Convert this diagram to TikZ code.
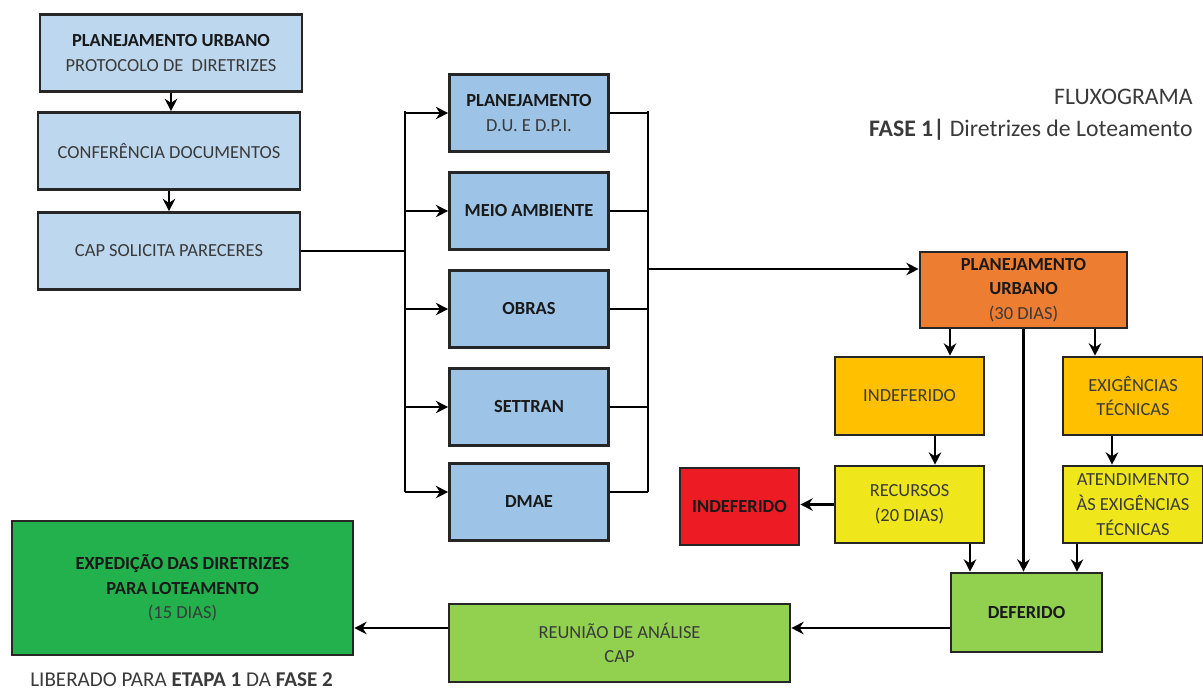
\documentclass[tikz,border=0pt]{standalone}
\usepackage{fontspec}
\setmainfont{Carlito}
\usetikzlibrary{arrows.meta}
\definecolor{azulclaro}{HTML}{BDD7EE}
\definecolor{azul}{HTML}{9DC3E6}
\definecolor{laranja}{HTML}{ED7D31}
\definecolor{ambar}{HTML}{FFC000}
\definecolor{amarelo}{HTML}{EFE61C}
\definecolor{vermelho}{HTML}{ED1C24}
\definecolor{verdeclaro}{HTML}{92D050}
\definecolor{verde}{HTML}{22B14C}
\definecolor{texto}{HTML}{3A3A3A}
\tikzset{
  caixa/.style={draw=black!85,line width=1.5pt,align=center,text=texto,font=\fontsize{10.5}{14}\selectfont},
  negrito/.style={font=\fontsize{10.5}{14}\selectfont\bfseries,text=black!90},
  seta/.style={->,line width=1.6pt},
  linha/.style={line width=1.6pt}
}
\begin{document}
\begin{tikzpicture}[x=0.02cm,y=-0.02cm,>={Stealth[length=7pt,width=7pt]}]
	\useasboundingbox (0,0) rectangle (1203,690);
	% coluna da esquerda
	\node[caixa,fill=azulclaro,minimum width=5.24cm,minimum height=1.54cm] (pu) at (171,53) {\textbf{\color{black!90}PLANEJAMENTO URBANO}\\PROTOCOLO DE \ DIRETRIZES};
	\node[caixa,fill=azulclaro,minimum width=5.24cm,minimum height=1.54cm] (conf) at (169,151) {CONFERÊNCIA DOCUMENTOS};
	\node[caixa,fill=azulclaro,minimum width=5.24cm,minimum height=1.54cm] (cap) at (169,251) {CAP SOLICITA PARECERES};
	\draw[seta] (pu.south) -- (pu.south |- conf.north);
	\draw[seta] (conf.south) -- (conf.south |- cap.north);
	% pareceres
	\node[caixa,fill=azul,minimum width=3.18cm,minimum height=1.54cm] (plan) at (529,113) {\textbf{\color{black!90}PLANEJAMENTO}\\D.U. E D.P.I.};
	\node[caixa,negrito,fill=azul,minimum width=3.18cm,minimum height=1.54cm] (meio) at (529,211) {MEIO AMBIENTE};
	\node[caixa,negrito,fill=azul,minimum width=3.18cm,minimum height=1.54cm] (obras) at (529,309) {OBRAS};
	\node[caixa,negrito,fill=azul,minimum width=3.18cm,minimum height=1.54cm] (settran) at (529,407) {SETTRAN};
	\node[caixa,negrito,fill=azul,minimum width=3.18cm,minimum height=1.54cm] (dmae) at (529,502) {DMAE};
	\draw[linha] (cap.east) -- (405,0 |- cap.east);
	\draw[linha] (405,111) -- (405,492);
	\draw[linha] (648,111) -- (648,492);
	\foreach \b in {plan,meio,obras,settran}{
		\draw[seta] (405,0 |- \b.west) -- (\b.west);
		\draw[linha] (\b.east) -- (648,0 |- \b.east);
	}
	\draw[seta] (405,492) -- (dmae.west |- 0,492);
	\draw[linha] (dmae.east |- 0,492) -- (648,492);
	% analise do planejamento urbano
	\node[caixa,fill=laranja,minimum width=4.14cm,minimum height=1.52cm] (puo) at (1023.5,290) {\textbf{\color{black!90}PLANEJAMENTO}\\\textbf{\color{black!90}URBANO}\\(30 DIAS)};
	\coordinate (bus) at (648,269);
	\draw[seta] (bus) -- (bus -| puo.west);
	\node[caixa,fill=ambar,minimum width=2.98cm,minimum height=1.56cm] (indef) at (909.5,396) {INDEFERIDO};
	\node[caixa,fill=ambar,minimum width=2.8cm,minimum height=1.56cm] (exig) at (1133,396) {EXIGÊNCIAS\\TÉCNICAS};
	\node[caixa,fill=amarelo,minimum width=2.98cm,minimum height=1.54cm] (rec) at (909.5,504.5) {RECURSOS\\(20 DIAS)};
	\node[caixa,fill=amarelo,minimum width=2.8cm,minimum height=1.54cm,inner xsep=1pt] (atend) at (1133,504.5) {ATENDIMENTO\\ÀS EXIGÊNCIAS\\TÉCNICAS};
	\node[caixa,negrito,fill=vermelho,minimum width=2.38cm,minimum height=1.54cm] (indef2) at (739.5,506.5) {INDEFERIDO};
	\node[caixa,negrito,fill=verdeclaro,minimum width=3.02cm,minimum height=1.58cm] (def) at (1026.5,612.5) {DEFERIDO};
	\draw[seta] (950,0 |- puo.south) -- (950,0 |- indef.north);
	\draw[seta] (1095,0 |- puo.south) -- (1095,0 |- exig.north);
	\draw[seta] (puo.south) -- (puo.south |- def.north);
	\draw[seta] (935,0 |- indef.south) -- (935,0 |- rec.north);
	\draw[seta] (1112,0 |- exig.south) -- (1112,0 |- atend.north);
	\draw[seta] (rec.west) -- (indef2.east |- rec.west);
	\draw[seta] (970,0 |- rec.south) -- (970,0 |- def.north);
	\draw[seta] (1077,0 |- atend.south) -- (1077,0 |- def.north);
	% fechamento
	\node[caixa,fill=verdeclaro,minimum width=6.82cm,minimum height=1.56cm] (reun) at (619.5,643) {REUNIÃO DE ANÁLISE\\CAP};
	\node[caixa,fill=verde,minimum width=6.82cm,minimum height=2.68cm] (exped) at (182.5,588) {\textbf{\color{black!90}EXPEDIÇÃO DAS DIRETRIZES}\\\textbf{\color{black!90}PARA LOTEAMENTO}\\(15 DIAS)};
	\draw[seta] (def.west |- 0,628) -- (reun.east |- 0,628);
	\draw[seta] (reun.west |- 0,628) -- (exped.east |- 0,628);
	\node[anchor=west,text=texto,font=\fontsize{12}{14}\selectfont,inner sep=0pt] (lib) at (30,680) {LIBERADO PARA \textbf{ETAPA 1} DA \textbf{FASE 2}};
	% titulo
	\node[anchor=east,text=texto,font=\fontsize{13.5}{16}\selectfont,inner sep=0pt] (tit) at (1193,97) {FLUXOGRAMA};
	\node[anchor=east,text=texto,font=\fontsize{13.5}{16}\selectfont,inner sep=0pt] (fase) at (1193,130) {\textbf{FASE 1|} Diretrizes de Loteamento};
\end{tikzpicture}
\end{document}
